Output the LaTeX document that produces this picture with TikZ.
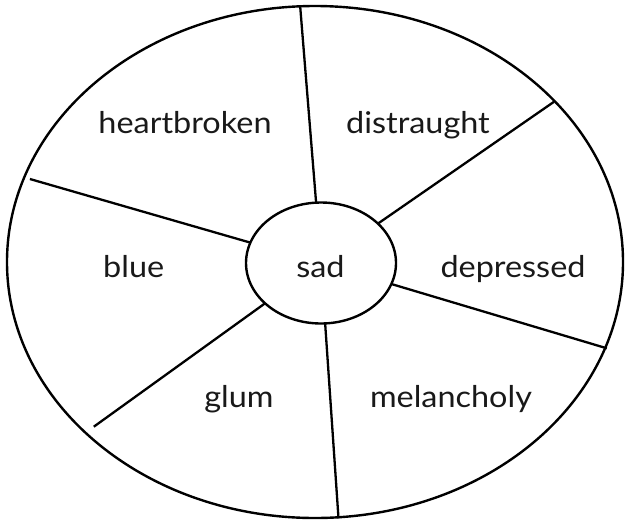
\documentclass[tikz,border=0pt]{standalone}
\usepackage{fontspec}
\setmainfont{Lato}
\usetikzlibrary{shapes.geometric}
\begin{document}
\begin{tikzpicture}[x=1pt,y=-1pt,
  rimshape/.style={draw, ellipse, line width=2.4pt, inner sep=0pt, outer sep=0pt},
  spoke/.style={line width=2.3pt},
  word/.style={anchor=base, inner sep=0pt, font=\fontsize{30}{34}\selectfont, text=black!90}]
\useasboundingbox (0,0) rectangle (626,520);
\node[rimshape, minimum width=616pt, minimum height=512pt] (rim) at (315,262) {};
\node[rimshape, minimum width=150pt, minimum height=121pt] (hub) at (321,263) {};
\coordinate (p1) at (300.2,6.7);
\coordinate (p2) at (554.1,101.7);
\coordinate (p3) at (606.8,348.3);
\coordinate (p4) at (338.5,518.3);
\coordinate (p5) at (93.8,426.7);
\coordinate (p6) at (29.9,179);
\foreach \p in {p1,p2,p3,p4,p5,p6} \draw[spoke] (hub) -- (\p);
\node[word] (heartbroken) at (185,133) {\scalebox{1.08}[1]{heartbroken}};
\node[word] (distraught) at (418,133) {\scalebox{1.08}[1]{distraught}};
\node[word] (blue) at (133.7,277) {\scalebox{1.08}[1]{blue}};
\node[word] (sad) at (320.5,277) {\scalebox{1.08}[1]{sad}};
\node[word] (depressed) at (513,277) {\scalebox{1.08}[1]{depressed}};
\node[word] (glum) at (239,407) {\scalebox{1.08}[1]{glum}};
\node[word] (melancholy) at (451,407) {\scalebox{1.08}[1]{melancholy}};
\end{tikzpicture}
\end{document}
